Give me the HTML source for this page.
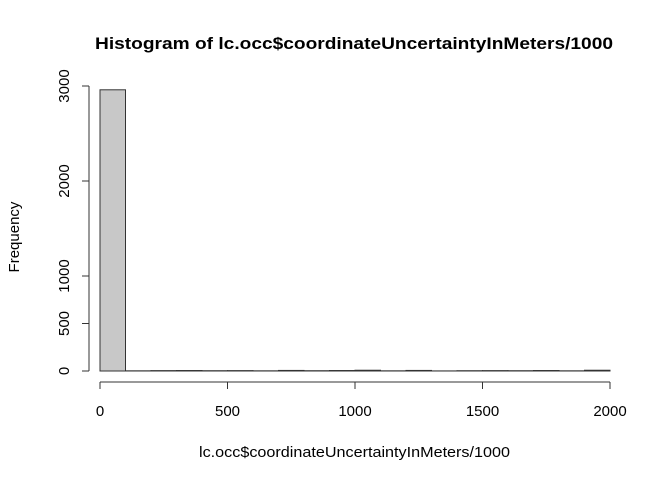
<!DOCTYPE html>
<html><head><meta charset="utf-8"><style>body{margin:0;background:#fff}svg{display:block;font-family:"Liberation Sans",Arial,sans-serif}</style></head>
<body>
<svg id="c" width="672" height="480" viewBox="0 0 672 480"></svg>
<script>
const binStarts=[0,100,200,300,400,500,600,700,800,900,1000,1100,1200,1300,1400,1500,1600,1700,1800,1900];
const counts=[2960,2,4,5,3,4,2,6,3,5,8,2,6,1,3,4,3,5,2,8];
const xTicks=[0,500,1000,1500,2000];
const yTicks=[0,500,1000,2000,3000];
const binWidth=100;
const NS='http://www.w3.org/2000/svg';
const svg=document.getElementById('c');
const xs=v=>100+v*(510/2000);
const ys=v=>371-v*0.095;
function mk(t,a,p){const e=document.createElementNS(NS,t);for(const k in a)e.setAttribute(k,a[k]);(p||svg).appendChild(e);return e;}
const bars=mk('g',{});


counts.forEach((c,i)=>{const x0=xs(binStarts[i]),x1=xs(binStarts[i]+binWidth),y=ys(c);
const r=mk('rect',{x:x0,y:y,width:x1-x0,height:371-y,fill:'#c8c8c8',stroke:'#333','stroke-width':1},bars);

});
const xa=mk('g',{stroke:'#333','stroke-width':1});


mk('line',{x1:xs(0),x2:xs(2000),y1:382,y2:382},xa);
xTicks.forEach(t=>{mk('line',{x1:xs(t),x2:xs(t),y1:382,y2:389},xa);
const tx=mk('text',{x:xs(t),y:416,'text-anchor':'middle','font-size':15,fill:'#000',stroke:'none'},xa);tx.textContent=t;

});
const ya=mk('g',{stroke:'#333','stroke-width':1});


mk('line',{x1:89,x2:89,y1:ys(0),y2:ys(3000)},ya);
yTicks.forEach(t=>{mk('line',{x1:82,x2:89,y1:ys(t),y2:ys(t)},ya);
const tx=mk('text',{x:0,y:0,transform:`translate(69,${ys(t)}) rotate(-90)`,'text-anchor':'middle','font-size':15,fill:'#000',stroke:'none'},ya);tx.textContent=t;

});
const ti=mk('text',{x:95,y:49,'font-size':17,'font-weight':'bold',textLength:518,lengthAdjust:'spacingAndGlyphs'});ti.textContent='Histogram of lc.occ$coordinateUncertaintyInMeters/1000';


const xl=mk('text',{x:199,y:457,'font-size':15,textLength:311,lengthAdjust:'spacingAndGlyphs'});xl.textContent='lc.occ$coordinateUncertaintyInMeters/1000';


const yl=mk('text',{x:0,y:0,transform:'translate(19,237) rotate(-90)','text-anchor':'middle','font-size':15});yl.textContent='Frequency';


</script>
</body></html>
